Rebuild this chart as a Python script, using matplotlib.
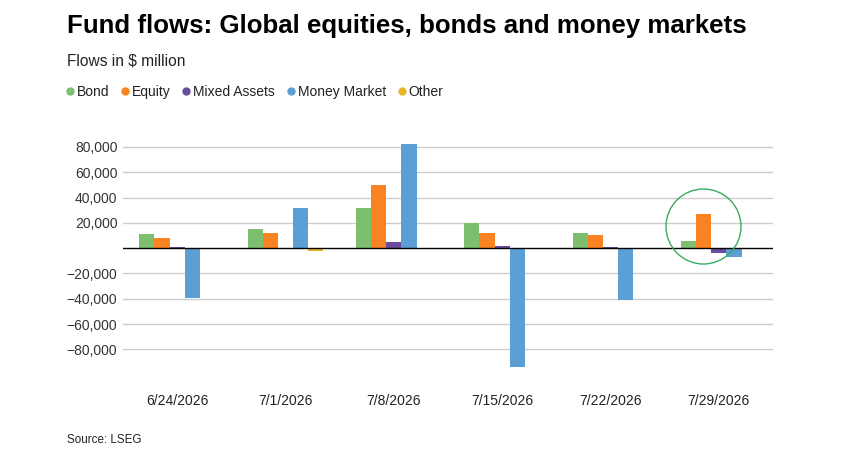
import numpy as np
import matplotlib
matplotlib.use("Agg")
import matplotlib.pyplot as plt
from matplotlib.lines import Line2D

plt.rcParams["font.family"] = ["Liberation Sans", "DejaVu Sans"]

# data ($ million)
dates = ["6/24/2026", "7/1/2026", "7/8/2026", "7/15/2026", "7/22/2026", "7/29/2026"]
series_names = ["Bond", "Equity", "Mixed Assets", "Money Market", "Other"]
bond = [11100, 15000, 31700, 19800, 11900, 5800]
equity = [7900, 11900, 49900, 11900, 10300, 26900]
mixed = [800, -1000, 4700, 1600, 800, -3700]
money_market = [-39300, 31700, 82300, -93900, -40900, -6900]
other = [0, -2000, 0, 0, 0, 0]
yticks = [-80000, -60000, -40000, -20000, 20000, 40000, 60000, 80000]

colors = ["#7dbf6e", "#f98323", "#6a4c9c", "#5b9fd5", "#e8b52a"]
all_series = [bond, equity, mixed, money_market, other]

fig = plt.figure(figsize=(8.68, 4.65), dpi=100)
ax = fig.add_axes([123 / 868, 1 - 374.6 / 465, 650 / 868, (374.6 - 121.6) / 465])

x = np.arange(len(dates))
bw = 0.14
for i, (vals, col) in enumerate(zip(all_series, colors)):
    ax.bar(x + (i - 2) * bw, vals, width=bw, color=col, zorder=3)

ax.set_xlim(-0.5, 5.5)
ax.set_ylim(-100000, 100000)
ax.set_yticks(yticks)
ax.set_yticklabels([f"{v:,}".replace("-", "\u2212") for v in yticks])
ax.grid(axis="y", color="#cccccc", linewidth=1.0, zorder=0)
ax.axhline(0, color="black", linewidth=1.0, zorder=4)
ax.set_xticks(x)
ax.set_xticklabels(dates)
ax.tick_params(axis="y", length=0, pad=4, labelsize=10, labelcolor="#333333")
ax.tick_params(axis="x", length=0, pad=14, labelsize=10, labelcolor="#222222")
for s in ax.spines.values():
    s.set_visible(False)

# highlight circle on the last week
ax.plot([4.85], [17150], marker="o", markersize=54, markerfacecolor="none",
        markeredgecolor="#3aaa5e", markeredgewidth=1.0, zorder=5, clip_on=False)

# titles
fig.text(67 / 868, 1 - 26 / 465, "Fund flows: Global equities, bonds and money markets",
         fontsize=18.6, fontweight="bold", va="center", ha="left", color="black")
fig.text(67 / 868, 1 - 61 / 465, "Flows in $ million", fontsize=11.2,
         va="center", ha="left", color="#222222")
fig.text(67 / 868, 1 - 440 / 465, "Source: LSEG", fontsize=8.4,
         va="center", ha="left", color="#222222")

# legend
handles = [Line2D([0], [0], marker="o", linestyle="none", markersize=5,
                  markerfacecolor=c, markeredgecolor=c, label=n)
           for n, c in zip(series_names, colors)]
fig.legend(handles=handles, loc="center left", bbox_to_anchor=(58 / 868, 1 - 92 / 465),
           ncol=5, frameon=False, fontsize=10, handletextpad=0.15, columnspacing=0.78,
           handlelength=0.7, borderpad=0, labelcolor="#222222")

fig.savefig("out.png", dpi=100)
